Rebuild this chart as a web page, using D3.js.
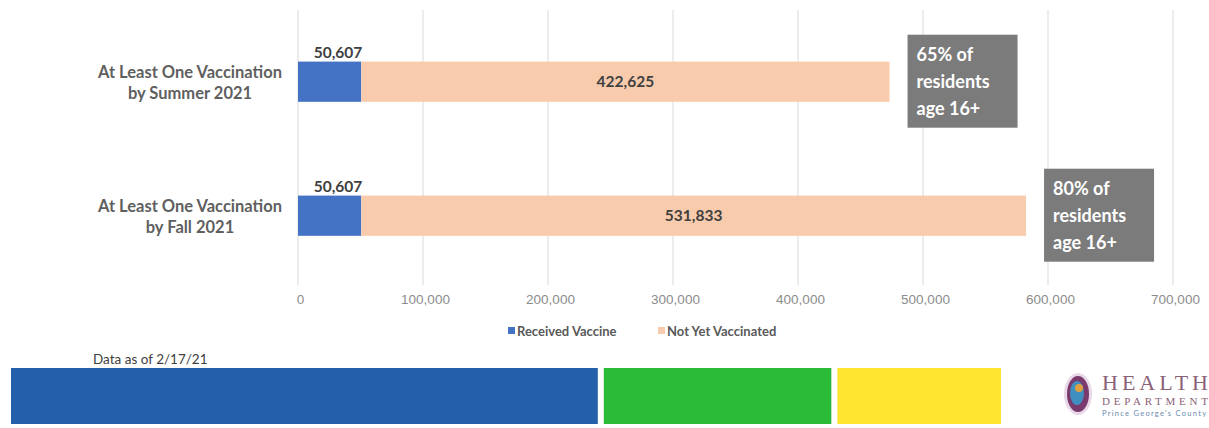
<html>
<head>
    <style>
        body { margin: 0; background: white; font-family: Lato, sans-serif; }
        .grid line { stroke: #d9d9d9; }
        .xaxis text { fill: #8c8c8c; font-size: 13.5px; }
    </style>
    <script src="https://cdn.jsdelivr.net/npm/d3@7"></script>
</head>
<body>
<div class="mainView"></div>
<script>
    // chart data
    let categories = [["At Least One Vaccination", "by Summer 2021"], ["At Least One Vaccination", "by Fall 2021"]];
    let received = [50607, 50607];
    let notYet = [422625, 531833];
    let notes = [["65% of", "residents", "age 16+"], ["80% of", "residents", "age 16+"]];
    let ticks = [0, 100000, 200000, 300000, 400000, 500000, 600000, 700000];
    let seriesNames = ["Received Vaccine", "Not Yet Vaccinated"];
    let seriesColors = ["#4472c4", "#f8cbad"];
    // decorative footer strip (relative widths)
    let stripWeights = [588, 228, 164];
    let stripColors = ["#245fa9", "#2bbb39", "#fee52f"];

    function getConfig() {
        let width = 1209, height = 428;
        let svg = d3.select(".mainView").append("svg")
            .attr("width", width).attr("height", height);
        return { width, height, svg };
    }

    function getScales() {
        let xScale = d3.scaleLinear().domain([0, 700000]).range([298, 1173]);
        let yScale = d3.scaleBand()
            .domain(d3.range(categories.length))
            .range([14.7, 282.7])
            .paddingInner(0.7)
            .paddingOuter(0.35);
        return { xScale, yScale };
    }

    function drawAxes(scales, config) {
        let { xScale, yScale } = scales;
        let { svg } = config;
        svg.append("g").attr("class", "grid")
            .selectAll("line").data(ticks).enter().append("line")
            .attr("x1", d => xScale(d)).attr("x2", d => xScale(d))
            .attr("y1", 10).attr("y2", 285);

        let axisX = d3.axisBottom(xScale).tickValues(ticks)
            .tickSize(0).tickPadding(0).tickFormat(d3.format(","));
        let gx = svg.append("g").attr("class", "xaxis")
            .attr("transform", "translate(2,294)")
            .call(axisX);
        gx.select(".domain").remove();

        // category labels
        categories.forEach((lines, i) => {
            let cy = yScale(i) + yScale.bandwidth() / 2;
            let t = svg.append("text")
                .attr("text-anchor", "middle")
                .attr("font-weight", "bold")
                .attr("font-size", 16.5)
                .attr("fill", "#5f5f5f");
            lines.forEach((l, j) => {
                t.append("tspan").attr("x", 190)
                    .attr("y", cy - 4 + j * 21)
                    .text(l);
            });
        });
    }

    function drawBars(scales, config) {
        let { xScale, yScale } = scales;
        let { svg } = config;
        let rows = categories.map((c, i) => ({ i, a: received[i], b: notYet[i] }));
        let g = svg.append("g");
        g.selectAll(".recv").data(rows).enter().append("rect")
            .attr("x", xScale(0))
            .attr("y", d => yScale(d.i))
            .attr("width", d => xScale(d.a) - xScale(0))
            .attr("height", yScale.bandwidth())
            .attr("fill", seriesColors[0]);
        g.selectAll(".notyet").data(rows).enter().append("rect")
            .attr("x", d => xScale(d.a))
            .attr("y", d => yScale(d.i))
            .attr("width", d => xScale(d.a + d.b) - xScale(d.a))
            .attr("height", yScale.bandwidth())
            .attr("fill", seriesColors[1]);

        let fmt = d3.format(",");
        g.selectAll(".lblA").data(rows).enter().append("text")
            .attr("x", d => xScale(d.a) + 1)
            .attr("y", d => yScale(d.i) - 4)
            .attr("text-anchor", "end")
            .attr("font-size", 15.5).attr("font-weight", "bold")
            .attr("fill", "#404040")
            .text(d => fmt(d.a));
        g.selectAll(".lblB").data(rows).enter().append("text")
            .attr("x", d => (xScale(d.a) + xScale(d.a + d.b)) / 2)
            .attr("y", d => yScale(d.i) + yScale.bandwidth() / 2 + 5)
            .attr("text-anchor", "middle")
            .attr("font-size", 15.5).attr("font-weight", "bold")
            .attr("fill", "#404040")
            .text(d => fmt(d.b));

        // grey callouts
        rows.forEach(d => {
            let x0 = xScale(d.a + d.b) + 18;
            let cy = yScale(d.i) + yScale.bandwidth() / 2;
            g.append("rect")
                .attr("x", x0).attr("y", cy - 47)
                .attr("width", 110).attr("height", 93)
                .attr("fill", "#7b7b7b");
            let t = g.append("text").attr("fill", "white")
                .attr("font-size", 18).attr("font-weight", "bold");
            notes[d.i].forEach((l, j) => {
                t.append("tspan").attr("x", x0 + 9)
                    .attr("y", cy - 21 + j * 27).text(l);
            });
        });
    }

    function drawLegend(config) {
        let { svg } = config;
        let xs = [508, 658];
        seriesNames.forEach((n, i) => {
            svg.append("rect").attr("x", xs[i]).attr("y", 327)
                .attr("width", 7).attr("height", 7).attr("fill", seriesColors[i]);
            svg.append("text").attr("x", xs[i] + 9).attr("y", 335.5)
                .attr("font-size", 13).attr("font-weight", "bold")
                .attr("fill", "#595959").text(n);
        });
    }

    function drawFooter(config) {
        let { svg } = config;
        svg.append("text").attr("x", 93).attr("y", 364)
            .attr("font-size", 13.5).attr("fill", "#404040").text("Data as of 2/17/21");
        let sx = d3.scaleLinear().domain([0, d3.sum(stripWeights)]).range([11, 1001 - 12]);
        let acc = 0;
        stripWeights.forEach((w, i) => {
            svg.append("rect")
                .attr("x", sx(acc) + i * 6).attr("y", 368)
                .attr("width", sx(acc + w) - sx(acc)).attr("height", 56)
                .attr("fill", stripColors[i]);
            acc += w;
        });

        // health department logo
        let logo = svg.append("g");
        logo.append("ellipse").attr("cx", 1078).attr("cy", 394)
            .attr("rx", 14).attr("ry", 21).attr("fill", "#e8d8e8");
        logo.append("ellipse").attr("cx", 1078).attr("cy", 394)
            .attr("rx", 11).attr("ry", 18).attr("fill", "#7a3a6e");
        logo.append("ellipse").attr("cx", 1077).attr("cy", 393)
            .attr("rx", 7).attr("ry", 12).attr("fill", "#3f8fc0");
        logo.append("circle").attr("cx", 1079).attr("cy", 388)
            .attr("r", 4).attr("fill", "#e0a040");
        logo.append("text").attr("x", 1102).attr("y", 390)
            .attr("font-family", "Liberation Serif, serif").attr("font-size", 22)
            .attr("fill", "#8a6278").attr("textLength", 106).text("HEALTH");
        logo.append("text").attr("x", 1102).attr("y", 405)
            .attr("font-family", "Liberation Serif, serif").attr("font-size", 11)
            .attr("fill", "#8a6278").attr("textLength", 106).text("DEPARTMENT");
        logo.append("text").attr("x", 1102).attr("y", 416)
            .attr("font-size", 7.5).attr("fill", "#6a8ab0")
            .attr("textLength", 104).text("Prince George's County");
    }

    function showData() {
        let config = getConfig();
        let scales = getScales();
        drawAxes(scales, config);
        drawBars(scales, config);
        drawLegend(config);
        drawFooter(config);
    }
    showData();
</script>
</body>
</html>
